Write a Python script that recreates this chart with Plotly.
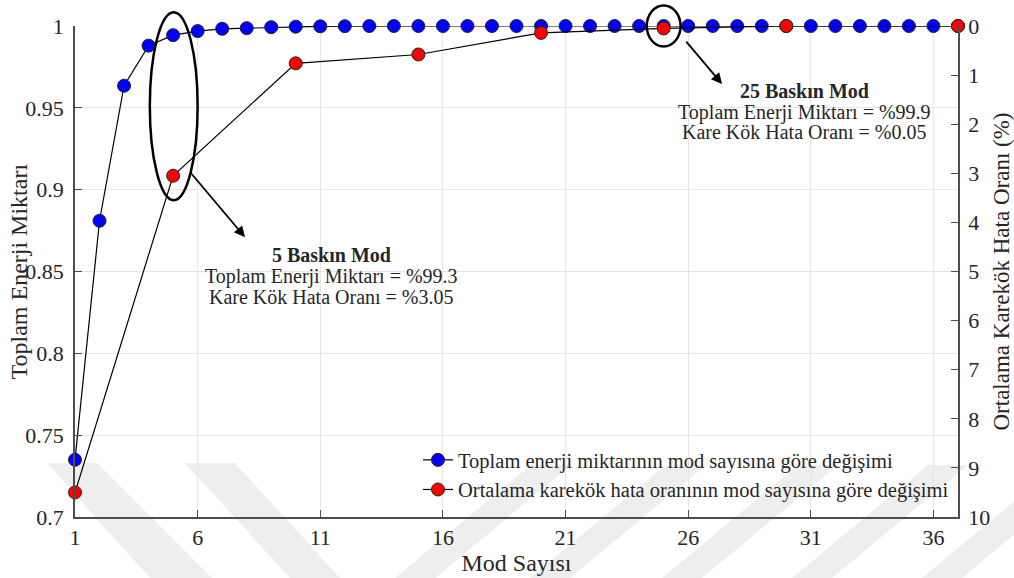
import plotly.graph_objects as go

# ---------------- data ----------------
mod_blue = list(range(1, 38))
energy = [0.735, 0.881, 0.9635, 0.988, 0.9944, 0.9969, 0.9983, 0.9987, 0.9993, 0.9996,
          0.9998, 0.9999, 1.0, 1.0, 1.0, 1.0, 1.0, 1.0, 1.0, 1.0,
          1.0, 1.0, 1.0, 1.0, 1.0, 1.0, 1.0, 1.0, 1.0, 1.0,
          1.0, 1.0, 1.0, 1.0, 1.0, 1.0, 1.0]
mod_red = [1, 5, 10, 15, 20, 25, 30, 37]
rmse = [9.5, 3.05, 0.76, 0.58, 0.14, 0.05, 0.0, 0.0]

x_ticks = [1, 6, 11, 16, 21, 26, 31, 36]
y_ticks = [0.7, 0.75, 0.8, 0.85, 0.9, 0.95, 1]
y_ticktext = ["0.7", "0.75", "0.8", "0.85", "0.9", "0.95", "1"]
y2_ticks = list(range(0, 11))

name_blue = "Toplam enerji miktarının mod sayısına göre değişimi"
name_red = "Ortalama karekök hata oranının mod sayısına göre değişimi"

# ---------------- layout constants ----------------
W, H = 1014, 578
ML, MR, MT, MB = 75, 56, 26, 61
X0, X1 = 1, 37
Y0, Y1 = 0.7, 1.0
PW, PH = W - ML - MR, H - MT - MB
FONT = "Liberation Serif, Times New Roman, serif"
AX = "#4d4d4d"
TXT = "#262626"


def pxp(px):  # pixel x -> paper
    return (px - ML) / PW


def pyp(py):  # pixel y -> paper
    return (H - MB - py) / PH


def dxp(x):  # data x -> paper
    return (x - X0) / (X1 - X0)


def dyp(y):
    return (y - Y0) / (Y1 - Y0)


fig = go.Figure()

fig.add_trace(go.Scatter(
    x=mod_blue, y=energy, mode="lines+markers", name=name_blue,
    line=dict(color="black", width=1.2),
    marker=dict(color="#0000ff", size=13, line=dict(color="#222", width=1)),
    cliponaxis=False,
))
fig.add_trace(go.Scatter(
    x=mod_red, y=rmse, mode="lines+markers", name=name_red, yaxis="y2",
    line=dict(color="black", width=1.2),
    marker=dict(color="#ff0000", size=13, line=dict(color="#222", width=1)),
    cliponaxis=False,
))

# ---------------- watermark ----------------
shapes = []
wm = "#eeeeee"
back = [[(47, 463), (97, 463), (212, 578), (150, 578)],
        [(185, 463), (235, 463), (340, 578), (290, 578)]]
fwd_bottoms = [395, 530, 662, 792, 922]
polys = list(back)
for b in fwd_bottoms:
    polys.append([(b, 578), (b + 40, 578), (b + 40 + 136, 465), (b + 136, 465)])
for poly in polys:
    path = "M " + " L ".join(f"{pxp(x):.4f},{pyp(y):.4f}" for x, y in poly) + " Z"
    shapes.append(dict(type="path", path=path, xref="paper", yref="paper",
                       fillcolor=wm, line=dict(width=0), layer="below"))

# ---------------- ellipses ----------------
shapes.append(dict(type="circle", xref="paper", yref="paper",
                   x0=dxp(5 - 0.95), x1=dxp(5 + 1.0),
                   y0=dyp(0.951 - 0.0574), y1=dyp(0.951 + 0.0574),
                   line=dict(color="black", width=2.5), layer="above"))
shapes.append(dict(type="circle", xref="paper", yref="paper",
                   x0=dxp(25 - 0.69), x1=dxp(25 + 0.69),
                   y0=dyp(1.0 - 0.0125), y1=dyp(1.0 + 0.0125),
                   line=dict(color="black", width=2.5), layer="above"))

annotations = [
    dict(x=7.93, y=0.871, ax=5.69, ay=0.9108, xref="x", yref="y", axref="x", ayref="y",
         text="", showarrow=True, arrowhead=2, arrowsize=1.2, arrowwidth=1.8, arrowcolor="black"),
    dict(x=27.38, y=0.9645, ax=25.87, ay=0.9914, xref="x", yref="y", axref="x", ayref="y",
         text="", showarrow=True, arrowhead=2, arrowsize=1.2, arrowwidth=1.8, arrowcolor="black"),
    # left axis title
    dict(x=pxp(18), y=0.5, xref="paper", yref="paper", text="Toplam Enerji Miktarı",
         textangle=-90, showarrow=False, xanchor="center", yanchor="middle",
         font=dict(family=FONT, size=24, color=TXT)),
]

ann_blocks = [
    (331, [255, 276, 297], ["<b>5 Baskın Mod</b>", "Toplam Enerji Miktarı = %99.3", "Kare Kök Hata Oranı = %3.05"]),
    (804, [91, 112, 132], ["<b>25 Baskın Mod</b>", "Toplam Enerji Miktarı = %99.9", "Kare Kök Hata Oranı = %0.05"]),
]
for cx, ys, lines in ann_blocks:
    for yy, t in zip(ys, lines):
        annotations.append(dict(x=pxp(cx), y=pyp(yy), xref="paper", yref="paper",
                                text=t, showarrow=False, xanchor="center", yanchor="middle",
                                font=dict(family=FONT, size=20, color=TXT)))

fig.update_layout(
    width=W, height=H,
    margin=dict(l=ML, r=MR, t=MT, b=MB, autoexpand=False),
    paper_bgcolor="white", plot_bgcolor="rgba(0,0,0,0)",
    font=dict(family=FONT, color=TXT),
    showlegend=True,
    legend=dict(x=pxp(418), y=pyp(440), xanchor="left", yanchor="top",
                bgcolor="rgba(0,0,0,0)", font=dict(family=FONT, size=20.5, color=TXT),
                itemwidth=30, tracegroupgap=0),
    xaxis=dict(range=[X0, X1], tickvals=x_ticks, ticks="inside", ticklen=7, tickcolor=AX,
               showline=True, linecolor=AX, linewidth=1.5, showgrid=True, gridcolor="#e6e6e6",
               zeroline=False, tickfont=dict(size=22, color=TXT),
               title=dict(text="Mod Sayısı", font=dict(size=24, color=TXT), standoff=3),
               automargin=False),
    yaxis=dict(range=[Y0, Y1], tickvals=y_ticks, ticktext=y_ticktext, ticks="inside", ticklen=7,
               tickcolor=AX, showline=True, linecolor=AX, linewidth=1.5, showgrid=True,
               gridcolor="#e6e6e6", zeroline=False, tickfont=dict(size=22, color=TXT),
               ticklabelstandoff=5, automargin=False),
    yaxis2=dict(range=[10, 0], tickvals=y2_ticks, overlaying="y", side="right", ticks="inside",
                ticklen=7, tickcolor=AX, showline=True, linecolor=AX, linewidth=1.5,
                showgrid=False, zeroline=False, tickfont=dict(size=22, color=TXT),
                ticklabelstandoff=4,
                title=dict(text="Ortalama Karekök Hata Oranı (%)", font=dict(size=23, color=TXT), standoff=6),
                automargin=False),
    shapes=shapes,
    annotations=annotations,
)

fig.write_html("out.html")
